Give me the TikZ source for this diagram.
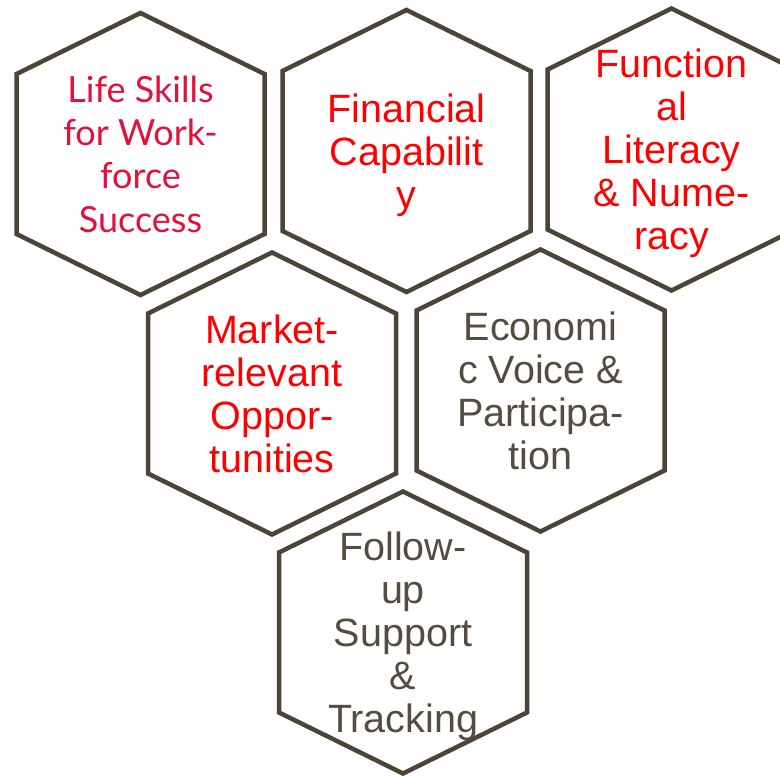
\documentclass[tikz,border=0pt]{standalone}
\usepackage{fontspec}
\setmainfont{Liberation Sans}
\newfontfamily\gillfont{Lato}
\usetikzlibrary{backgrounds}
\definecolor{edge}{RGB}{75, 68, 55}
\definecolor{ink}{RGB}{85, 76, 64}
\definecolor{hot}{RGB}{255, 0, 0}
\definecolor{crimson}{RGB}{226, 16, 58}

\tikzset{
  hexline/.style={draw=edge, line width=4.5pt},
  cell/.style={align=center, inner sep=0pt, text depth=0pt,
    font=\fontsize{39.5}{43}\selectfont},
}

\begin{document}
\begin{tikzpicture}[x=1pt, y=-1pt]

  \useasboundingbox (0,0) rectangle (780,776);
  \clip (0,0) rectangle (780,776);

  % top row
  \node[cell, crimson, font=\gillfont\fontsize{36}{43.3}\selectfont] (life) at (140.5,154)
    {Life Skills\\for Work-\\force\\Success};
  \node[cell, hot] (money) at (406.5,151) {Financial\\Capabilit\\y};
  \node[cell, hot] (literacy) at (671.5,149.5) {Function\\al\\Literacy\\\& Nume-\\racy};

  % middle row
  \node[cell, hot] (market) at (272,393.5) {Market-\\relevant\\Oppor-\\tunities};
  \node[cell, ink] (voice) at (540.5,390.5) {Economi\\c Voice \&\\Participa-\\tion};

  % bottom
  \node[cell, ink] (follow) at (403,632.5) {Follow-\\up\\Support\\\&\\Tracking};

  \begin{scope}[on background layer]
    \fill[white] (0,0) rectangle (780,776);
    \foreach \hex in {life, money, literacy, market, voice, follow}
      \draw[hexline] (\hex.center) ++(0,-141) -- ++(124,61) -- ++(0,160)
        -- ++(-124,61) -- ++(-124,-61) -- ++(0,-160) -- cycle;
  \end{scope}

\end{tikzpicture}
\end{document}
